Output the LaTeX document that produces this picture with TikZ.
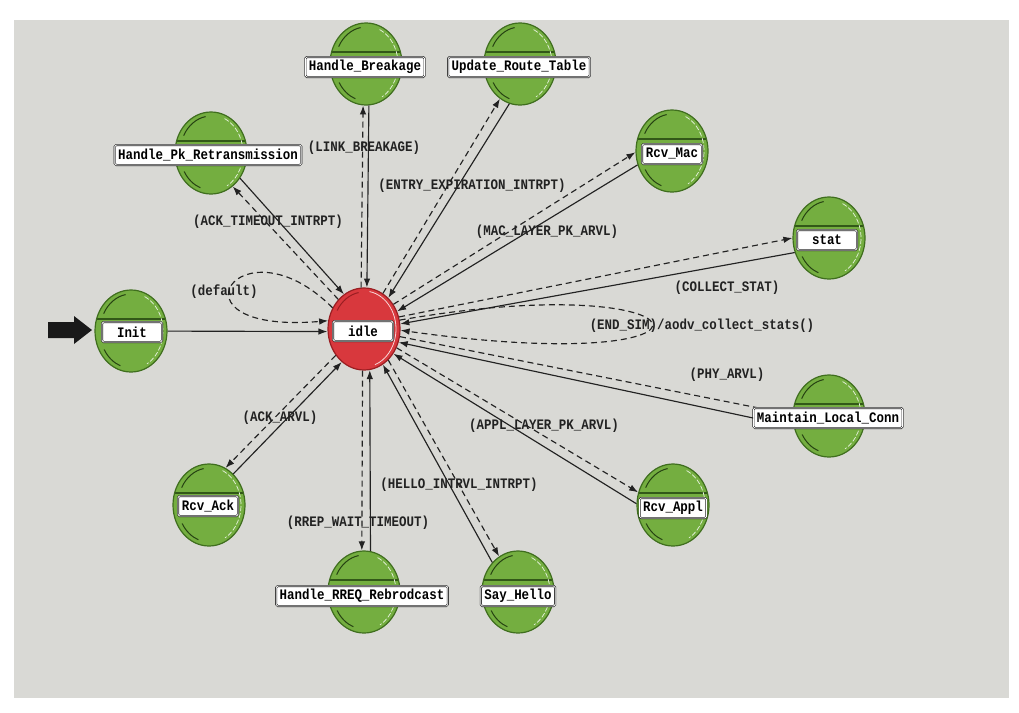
\documentclass[tikz,border=0pt]{standalone}
\usepackage{fontspec}
\usetikzlibrary{shapes.geometric,arrows.meta,calc}
\newfontfamily\opfont[FakeStretch=0.86]{Liberation Mono}
\definecolor{bggray}{HTML}{D9D9D5}
\definecolor{stgreen}{HTML}{74AE40}
\definecolor{stgreenD}{HTML}{3F6E1E}
\definecolor{stred}{HTML}{D8383D}
\definecolor{stredD}{HTML}{9A1E22}
\definecolor{ink}{HTML}{222222}
\begin{document}
\begin{tikzpicture}[x=1pt,y=-1pt,
  txtfont/.style={font=\opfont\bfseries\fontsize{14.5}{16}\selectfont},
  state/.style={ellipse, minimum width=72pt, minimum height=82pt, inner sep=0pt,
    fill=stgreen, draw=stgreenD, line width=1.2pt,
    path picture={
      \draw[stgreenD!80!black, line width=1.4pt]
        ([yshift=12pt]path picture bounding box.west) -- ([yshift=12pt]path picture bounding box.east);
      \draw[stgreenD!60!black, line width=1pt]
        ([shift={(-152:31 and 37)}]path picture bounding box.center) arc[start angle=-152, end angle=-100, x radius=31, y radius=37];
      \draw[stgreenD!60!black, line width=1pt]
        ([shift={(150:31 and 37)}]path picture bounding box.center) arc[start angle=150, end angle=110, x radius=31, y radius=37];
      \draw[white!85!stgreen, line width=0.7pt, dash pattern=on 5pt off 2pt]
        ([shift={(-65:32 and 38)}]path picture bounding box.center) arc[start angle=-65, end angle=60, x radius=32, y radius=38];
    }},
  idlestate/.style={ellipse, minimum width=72pt, minimum height=82pt, inner sep=0pt,
    fill=stred, draw=stredD, line width=1.2pt,
    path picture={
      \draw[white!80!stred, line width=0.8pt]
        ([shift={(-80:32 and 38)}]path picture bounding box.center) arc[start angle=-80, end angle=70, x radius=32, y radius=38];
      \draw[stredD, line width=1pt]
        ([shift={(-150:31 and 37)}]path picture bounding box.center) arc[start angle=-150, end angle=-100, x radius=31, y radius=37];
    }},
  namebox/.style={txtfont, draw=black!85, line width=0.6pt, double=white, double distance=0.8pt,
    fill=white, rounded corners=1.5pt, inner xsep=3.5pt, inner ysep=0pt,
    minimum width=60pt, minimum height=20pt, text=black},
  cond/.style={txtfont, inner sep=0pt, text=ink},
  tr/.style={draw=ink, line width=1.15pt, -{Latex[length=9pt,width=6.5pt]}},
  trd/.style={tr, dash pattern=on 6pt off 4pt}
]
\useasboundingbox (0,0) rectangle (1019,712);
\fill[white] (0,0) rectangle (1019,712);
\fill[bggray] (14,20) rectangle (1009,698);

% states
\node[idlestate] (idle) at (364,329) {};
\node[state] (init) at (131,331) {};
\node[state] (hb) at (366,64) {};
\node[state] (urt) at (520,64) {};
\node[state] (hpr) at (211,153) {};
\node[state] (rmac) at (672,151) {};
\node[state] (stat) at (829,238) {};
\node[state] (mlc) at (829,416) {};
\node[state] (rappl) at (673,505) {};
\node[state] (shello) at (518,592) {};
\node[state] (hrr) at (364,592) {};
\node[state] (rack) at (209,505) {};

% entry arrow
\fill[black!90] (48,322) -- (74,322) -- (74,316) -- (92,330) -- (74,344) -- (74,338) -- (48,338) -- cycle;

% transitions
\draw[tr] (init) -- (idle.184);
\draw[trd] (idle.146) .. controls (240,215) and (160,335) .. (idle.167);
\draw[trd] (idle.94) -- (hb.266);
\draw[tr] (hb.274) -- (idle.86);
\draw[trd] (idle.62) -- (urt.240);
\draw[tr] (urt.255) -- (idle.52);
\draw[trd] (idle.131) -- (hpr.303);
\draw[tr] (hpr.319) -- (idle.120);
\draw[trd] (idle.40) -- (rmac.182);
\draw[tr] (rmac.202) -- (idle.28);
\draw[trd] (idle.19) -- (stat.180);
\draw[tr] (stat.203) -- (idle.8);
\draw[trd] (idle.14) .. controls (715,265) and (755,380) .. (idle.-2);
\draw[trd] (idle.-12) -- (mlc.178);
\draw[trd] (idle.-30) -- (rappl.160);
\draw[tr] (rappl.178) -- (idle.-40);
\draw[trd] (idle.-52) -- (shello.118);
\draw[tr] (shello.131) -- (idle.-62);
\draw[trd] (idle.-92) -- (hrr.93);
\draw[tr] (hrr.81) -- (idle.-82);
\draw[trd] (idle.223) -- (rack.66);
\draw[tr] (rack.52) -- (idle.236);

% name boxes
\node[namebox] (idleL) at (363,331) {idle};
\node[namebox] (initL) at (132,332) {Init};
\node[namebox] (hbL) at (365,67) {Handle\_Breakage};
\node[namebox] (urtL) at (519,67) {Update\_Route\_Table};
\node[namebox] (hprL) at (208,155) {Handle\_Pk\_Retransmission};
\node[namebox] (rmacL) at (672,154) {Rcv\_Mac};
\node[namebox] (statL) at (827,240) {stat};
\node[namebox] (mlcL) at (828,418) {Maintain\_Local\_Conn};
\node[namebox] (rapplL) at (673,508) {Rcv\_Appl};
\node[namebox] (shelloL) at (518,596) {Say\_Hello};
\node[namebox] (hrrL) at (362,596) {Handle\_RREQ\_Rebrodcast};
\node[namebox] (rackL) at (208,506) {Rcv\_Ack};

\draw[tr] (mlcL.west) -- (idle.-21);

% conditions
\node[cond] (c1) at (364,148) {(LINK\_BREAKAGE)};
\node[cond] (c2) at (472,186) {(ENTRY\_EXPIRATION\_INTRPT)};
\node[cond] (c3) at (268,222) {(ACK\_TIMEOUT\_INTRPT)};
\node[cond] (c4) at (547,232) {(MAC\_LAYER\_PK\_ARVL)};
\node[cond] (c5) at (727,288) {(COLLECT\_STAT)};
\node[cond] (c6) at (224,292) {(default)};
\node[cond] (c7) at (702,326) {(END\_SIM)/aodv\_collect\_stats()};
\node[cond] (c8) at (727,375) {(PHY\_ARVL)};
\node[cond] (c9) at (280,418) {(ACK\_ARVL)};
\node[cond] (c10) at (544,426) {(APPL\_LAYER\_PK\_ARVL)};
\node[cond] (c11) at (459,485) {(HELLO\_INTRVL\_INTRPT)};
\node[cond] (c12) at (358,523) {(RREP\_WAIT\_TIMEOUT)};
\end{tikzpicture}
\end{document}
